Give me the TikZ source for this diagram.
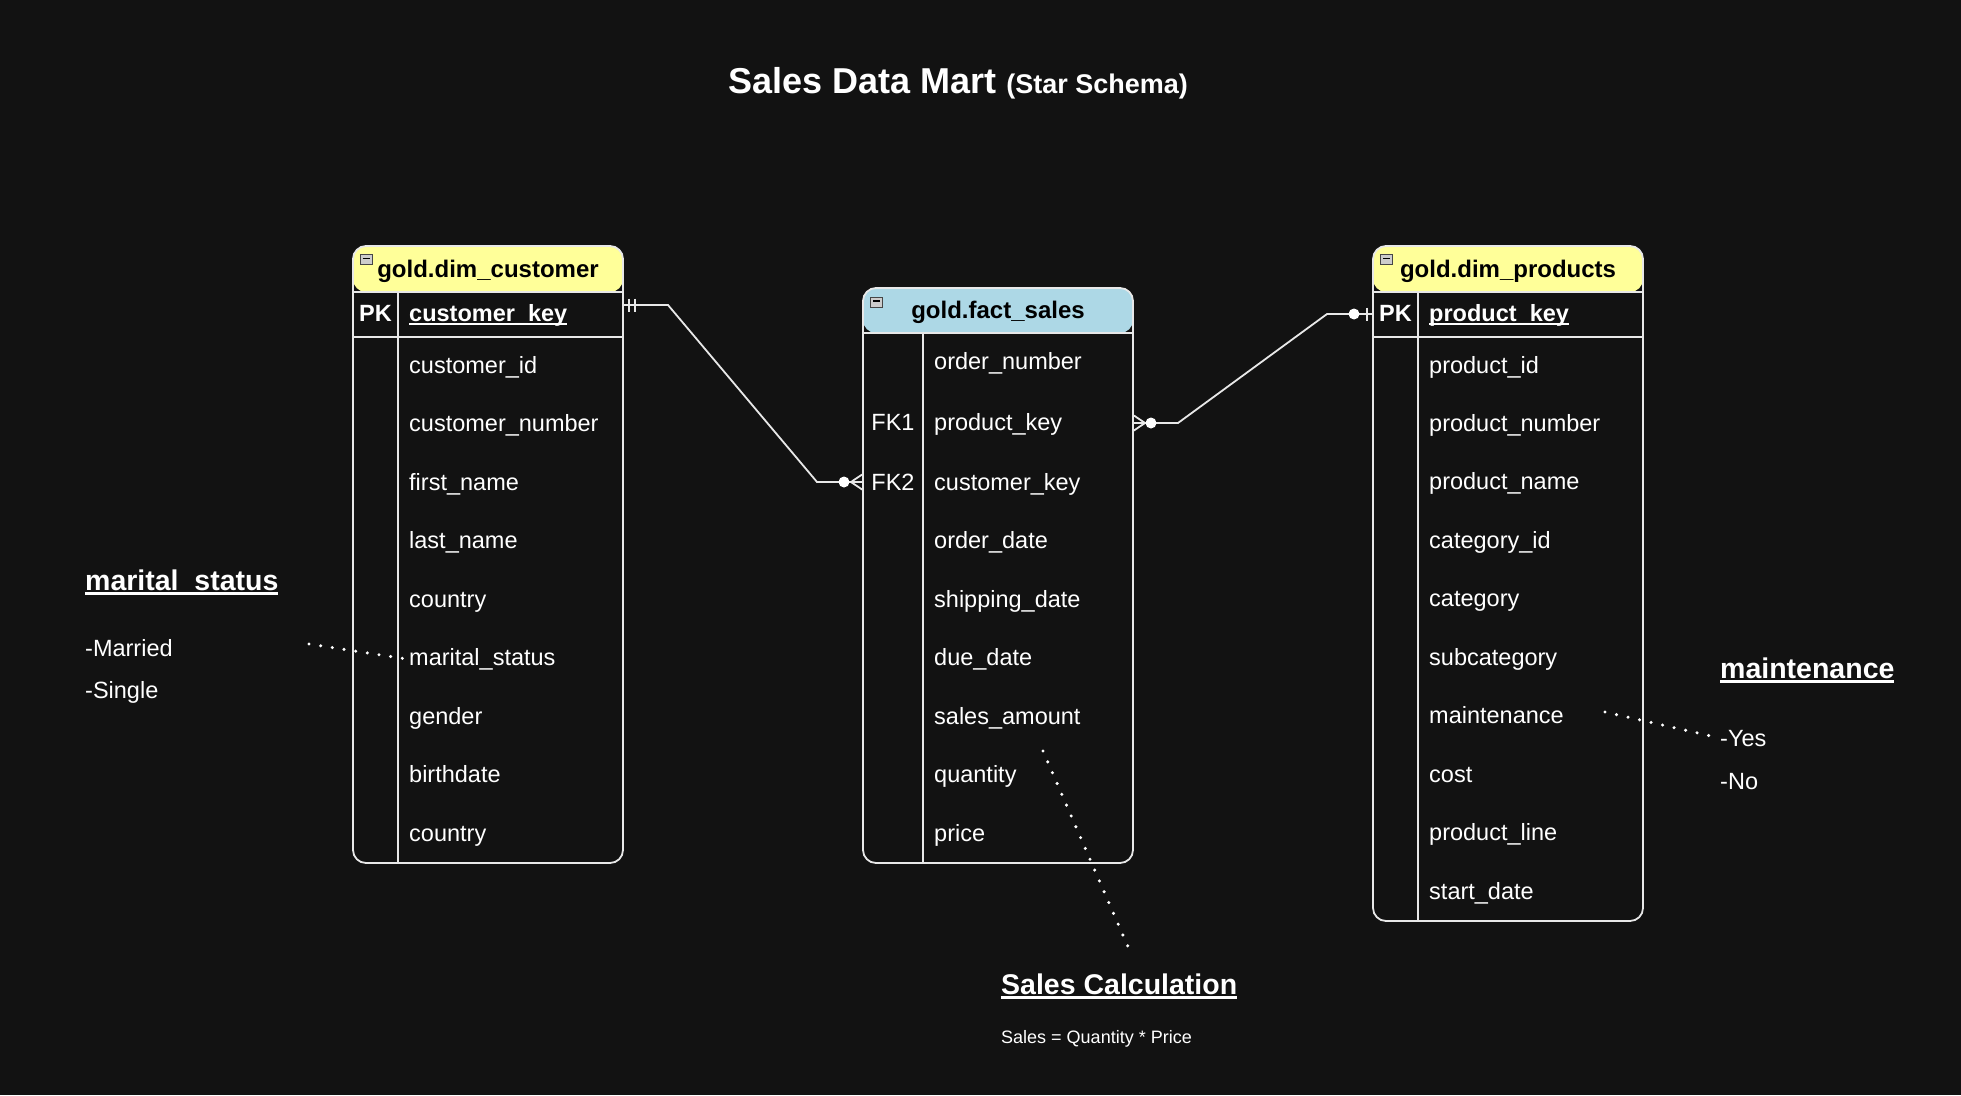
\documentclass[tikz,border=0pt]{standalone}
\usepackage{fontspec}
\setmainfont{Liberation Sans}
\definecolor{bg}{RGB}{18,18,18}
\definecolor{hdryellow}{RGB}{255,255,153}
\definecolor{hdrblue}{RGB}{173,216,230}
\definecolor{ln}{RGB}{232,232,232}
\newcommand\myul[1]{\setbox0=\hbox{#1}\rlap{\rule[-0.16em]{\wd0}{0.085em}}\box0}
\begin{document}
\begin{tikzpicture}[x=1pt,y=-1pt,
  tbl/.style={draw=ln, line width=1.8pt, rounded corners=13pt, minimum width=270pt, inner sep=0pt, fill=bg},
  yhdr/.style={path picture={\fill[hdryellow] (path picture bounding box.north west) rectangle ([yshift=-#1]path picture bounding box.north east);}},
  bhdr/.style={path picture={\fill[hdrblue] (path picture bounding box.north west) rectangle ([yshift=-#1]path picture bounding box.north east);}},
  sep/.style={draw=ln, line width=1.8pt},
  hdr/.style={anchor=base, text=black, inner sep=0pt, font=\fontsize{24}{28}\selectfont\bfseries},
  fld/.style={anchor=base west, text=white, inner sep=0pt, font=\fontsize{23.5}{28}\selectfont},
  fldb/.style={anchor=base west, text=white, inner sep=0pt, font=\fontsize{23.5}{28}\selectfont\bfseries},
  keyl/.style={anchor=base, text=white, inner sep=0pt, font=\fontsize{23.5}{28}\selectfont},
  keyb/.style={anchor=base, text=white, inner sep=0pt, font=\fontsize{23.5}{28}\selectfont\bfseries},
  minusicon/.style={draw=gray!55!black, fill=gray!40, line width=0.8pt, minimum width=12pt, minimum height=10pt, inner sep=0pt,
    path picture={\draw[black,line width=1.5pt] ([xshift=2.5pt,yshift=1pt]path picture bounding box.west) -- ([xshift=-2.5pt,yshift=1pt]path picture bounding box.east);}},
  conn/.style={draw=ln, line width=1.8pt},
  dotline/.style={draw=white, line width=3.4pt, line cap=round, dash pattern=on 0pt off 11.8pt},
  annot/.style={anchor=base west, text=white, inner sep=0pt, font=\fontsize{28.5}{32}\selectfont\bfseries},
  note/.style={anchor=base west, text=white, inner sep=0pt, font=\fontsize{23.5}{28}\selectfont}
]
\useasboundingbox (0,0) rectangle (1961,1095);
\fill[bg] (0,0) rectangle (1961,1095);

% title
\node[anchor=base west, text=white, inner sep=0pt, font=\fontsize{36}{40}\selectfont\bfseries] (title) at (728,93)
  {Sales Data Mart {\fontsize{27}{30}\selectfont(Star Schema)}};

% ---------- tables ----------
\node[tbl, yhdr=46pt, minimum height=617pt] (cust) at (488,554.5) {};
\node[tbl, bhdr=45pt, minimum height=575pt] (fact) at (998,575.5) {};
\node[tbl, yhdr=46pt, minimum height=675pt] (prod) at (1508,583.5) {};

% separators customer
\draw[sep] (cust.west |- 0,292) -- (cust.east |- 0,292);
\draw[sep] (cust.west |- 0,337) -- (cust.east |- 0,337);
\draw[sep] (398,292) -- (cust.south -| 398,0);
% separators fact
\draw[sep] (fact.west |- 0,333) -- (fact.east |- 0,333);
\draw[sep] (923,333) -- (fact.south -| 923,0);
% separators products
\draw[sep] (prod.west |- 0,292) -- (prod.east |- 0,292);
\draw[sep] (prod.west |- 0,337) -- (prod.east |- 0,337);
\draw[sep] (1418,292) -- (prod.south -| 1418,0);

% icons
\node[minusicon] (cmin) at (366,259.5) {};
\node[minusicon] (fmin) at (876.5,302) {};
\node[minusicon] (pmin) at (1386.5,259.5) {};

% customer texts
\node[hdr] (custh) at (488,277) {gold.dim\_customer};
\node[keyb] (custpkl) at (375.5,321) {PK};
\node[fldb] (custpk) at (409,321) {\myul{customer\_key}};
\node[fld] (c1) at (409,373) {customer\_id};
\node[fld] (c2) at (409,431.5) {customer\_number};
\node[fld] (c3) at (409,490) {first\_name};
\node[fld] (c4) at (409,548.5) {last\_name};
\node[fld] (c5) at (409,607) {country};
\node[fld] (c6) at (409,665.5) {marital\_status};
\node[fld] (c7) at (409,724) {gender};
\node[fld] (c8) at (409,782.5) {birthdate};
\node[fld] (c9) at (409,841) {country};

% fact texts
\node[hdr] (facth) at (998,318) {gold.fact\_sales};
\node[keyl] (fk1) at (893,430) {FK1};
\node[keyl] (fk2) at (893,490) {FK2};
\node[fld] (f1) at (934,369) {order\_number};
\node[fld] (f2) at (934,430) {product\_key};
\node[fld] (f3) at (934,490) {customer\_key};
\node[fld] (f4) at (934,548.5) {order\_date};
\node[fld] (f5) at (934,607) {shipping\_date};
\node[fld] (f6) at (934,665.5) {due\_date};
\node[fld] (f7) at (934,724) {sales\_amount};
\node[fld] (f8) at (934,782.5) {quantity};
\node[fld] (f9) at (934,841) {price};

% product texts
\node[hdr] (prodh) at (1508,277) {gold.dim\_products};
\node[keyb] (prodpkl) at (1395.5,321) {PK};
\node[fldb] (prodpk) at (1429,321) {\myul{product\_key}};
\node[fld] (p1) at (1429,373) {product\_id};
\node[fld] (p2) at (1429,431.4) {product\_number};
\node[fld] (p3) at (1429,489.9) {product\_name};
\node[fld] (p4) at (1429,548.3) {category\_id};
\node[fld] (p5) at (1429,606.8) {category};
\node[fld] (p6) at (1429,665.2) {subcategory};
\node[fld] (p7) at (1429,723.7) {maintenance};
\node[fld] (p8) at (1429,782.1) {cost};
\node[fld] (p9) at (1429,840.5) {product\_line};
\node[fld] (p10) at (1429,899) {start\_date};

% ---------- connectors ----------
% customer (one, mandatory) -> fact (zero or many)
\draw[conn] (cust.east |- 0,305) -- (668,305) -- (817,482) -- (fact.west |- 0,482);
\draw[conn] (629,298.5) -- (629,311.5);
\draw[conn] (635,298.5) -- (635,311.5);
\fill[white] (844,482) circle (5.5pt);
\draw[conn] (851,482) -- (fact.west |- 0,474.5);
\draw[conn] (851,482) -- (fact.west |- 0,489.5);

% fact (zero or many) -> products (zero or one)
\draw[conn] (fact.east |- 0,423) -- (1178,423) -- (1327,314) -- (prod.west |- 0,314);
\draw[conn] (fact.east |- 0,415.5) -- (1145,423);
\draw[conn] (fact.east |- 0,430.5) -- (1145,423);
\fill[white] (1151,423) circle (5.5pt);
\fill[white] (1354,314) circle (5.5pt);
\draw[conn] (1367,307.5) -- (1367,320.5);

% ---------- annotations ----------
\node[annot] (msh) at (85,590) {\myul{marital\_status}};
\node[note] (msm) at (85,656) {-Married};
\node[note] (mss) at (85,698) {-Single};

\node[annot] (mth) at (1720,678) {\myul{maintenance}};
\node[note] (mty) at (1720,746) {-Yes};
\node[note] (mtn) at (1720,789) {-No};

\node[annot] (sch) at (1001,994) {\myul{Sales Calculation}};
\node[anchor=base west, text=white, inner sep=0pt, font=\fontsize{18}{22}\selectfont] (scf) at (1001,1043) {Sales = Quantity * Price};

% dotted links
\coordinate (d1a) at (309,644);
\draw[dotline] (d1a) -- (c6.west);
\coordinate (d2a) at (1605,712);
\draw[dotline] (d2a) -- (mty.west);
\coordinate (d3a) at (1043,751);
\coordinate (d3b) at (1129,949);
\draw[dotline] (d3a) -- (d3b);
\end{tikzpicture}
\end{document}
